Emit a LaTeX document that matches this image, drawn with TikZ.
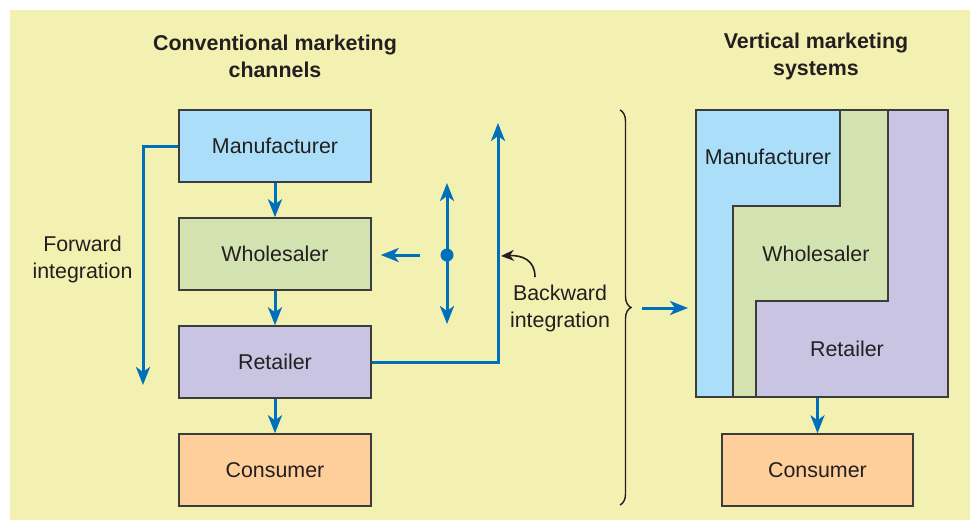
\documentclass[tikz,border=0pt]{standalone}
\usepackage{fontspec}
\setmainfont{Liberation Sans}
\usetikzlibrary{positioning,arrows.meta,decorations.pathreplacing}
\definecolor{bgyellow}{RGB}{243,241,177}
\definecolor{manblue}{RGB}{170,222,249}
\definecolor{whlgreen}{RGB}{210,227,177}
\definecolor{retpurple}{RGB}{201,196,226}
\definecolor{conorange}{RGB}{254,206,155}
\definecolor{flowblue}{RGB}{0,112,186}
\definecolor{edgegray}{RGB}{60,60,60}
\definecolor{textgray}{RGB}{35,31,32}
\tikzset{
    x=0.5pt,
    y=-0.5pt,
    block/.style = {
        draw=edgegray,
        shape=rectangle,
        minimum height=36pt,
        minimum width=96pt,
        inner sep=0pt,
        line width=0.75pt,
        text=textgray,
        font=\fontsize{10.7}{13.5}\selectfont
    },
    label/.style = {
        align=center,
        inner sep=0pt,
        text=textgray,
        font=\fontsize{10.7}{13.5}\selectfont
    },
    title/.style = {
        label,
        font=\bfseries\fontsize{10.7}{13.5}\selectfont
    },
    flow/.style = {
        draw,
        color=flowblue,
        line width=1.5pt
    },
    >={Stealth[length=9pt,width=7pt,inset=2.5pt]},
}

\begin{document}
\begin{tikzpicture}
            \useasboundingbox (0,0) rectangle (970,520);
            \fill[bgyellow] (10,10) rectangle (970,520);

            % conventional channel
            \node[title] (convtitle) at (275,56.5) {Conventional marketing\\channels};
            \node[block, fill=manblue] (man) at (275,146) {Manufacturer};
            \node[block, fill=whlgreen] (whl) at (275,254) {Wholesaler};
            \node[block, fill=retpurple] (ret) at (275,362) {Retailer};
            \node[block, fill=conorange] (con) at (275,470) {Consumer};

            \path[flow, ->] (man) -- (whl);
            \path[flow, ->] (whl) -- (ret);
            \path[flow, ->] (ret) -- (con);

            % forward integration
            \coordinate (fwdend) at (143,385);
            \path[flow, ->] (man.west) -| (fwdend);
            \node[label] (fwdlabel) at (82.5,259.5) {Forward\\integration};

            % horizontal integration
            \node[circle, fill=flowblue, minimum size=6.5pt, inner sep=0pt] (hub) at (447,255) {};
            \coordinate (hubup) at (447,183);
            \coordinate (hubdown) at (447,324);
            \path[flow, <->] (hubup) -- (hubdown);
            \path[flow, ->, shorten <=10pt, shorten >=4.5pt] (hub) -- (whl.east |- hub);

            % backward integration
            \coordinate (bwdend) at (498,123);
            \path[flow, ->] (ret.east) -| (bwdend);
            \node[label] (bwdlabel) at (560,308.5) {Backward\\integration};
            \coordinate (bwdstart) at (535,277);
            \coordinate (bwdtip) at (501,256);
            \path[draw, color=textgray, line width=0.8pt, -{Stealth[length=6.5pt,width=5.5pt,inset=2pt]}]
            (bwdstart) .. controls (535,260) and (522,255) .. (bwdtip);

            % brace
            \coordinate (bracetop) at (620,110);
            \coordinate (bracebot) at (620,505);
            \path[draw, color=textgray, line width=0.7pt, decorate,
            decoration={brace, amplitude=5.5pt}] (bracetop) -- (bracebot);
            \coordinate (bracetip) at (642,308);
            \coordinate (vmsin) at (688,308);
            \path[flow, ->] (bracetip) -- (vmsin);

            % vertical marketing system
            \node[title] (vmstitle) at (816,56.5) {Vertical marketing\\systems};
            \path[fill=manblue] (696,110) -- (840,110) -- (840,206) -- (733,206)
            -- (733,397) -- (696,397) -- cycle;
            \path[fill=whlgreen] (840,110) -- (888,110) -- (888,301) -- (756,301)
            -- (756,397) -- (733,397) -- (733,206) -- (840,206) -- cycle;
            \path[fill=retpurple] (888,110) -- (948,110) -- (948,397) -- (756,397)
            -- (756,301) -- (888,301) -- cycle;
            \path[draw, color=edgegray, line width=0.75pt] (840,110) -- (840,206)
            -- (733,206) -- (733,397);
            \path[draw, color=edgegray, line width=0.75pt] (888,110) -- (888,301)
            -- (756,301) -- (756,397);
            \node[block, minimum width=126pt, minimum height=143.5pt] (vms) at (822,253.5) {};
            \node[label] (vmsman) at (768,157) {Manufacturer};
            \node[label] (vmswhl) at (816,254) {Wholesaler};
            \node[label] (vmsret) at (847,349) {Retailer};

            \node[block, fill=conorange, minimum width=95.5pt] (con2) at (817.5,470) {Consumer};
            \path[flow, ->] (con2.north |- vms.south) -- (con2.north);
        \end{tikzpicture}
\end{document}
